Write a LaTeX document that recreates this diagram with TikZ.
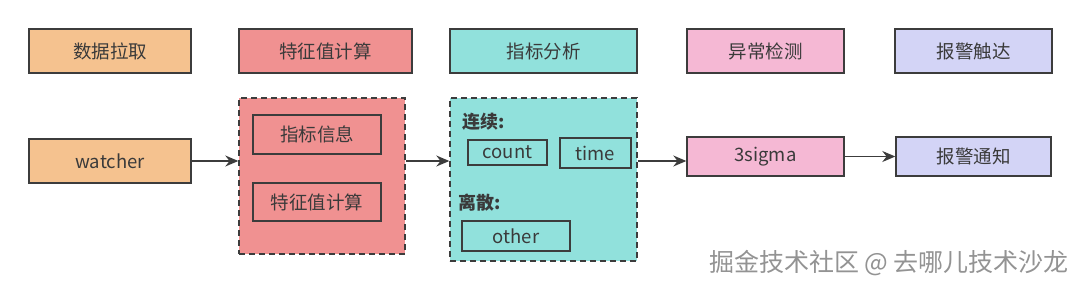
\documentclass[tikz,border=0pt]{standalone}
\usepackage{fontspec}
\setmainfont{Noto Sans CJK SC}
\usepackage{tikz}
\usetikzlibrary{arrows.meta,positioning}
\definecolor{cOrange}{HTML}{F5C28F}
\definecolor{cRed}{HTML}{F09191}
\definecolor{cTeal}{HTML}{91E1DC}
\definecolor{cPink}{HTML}{F5B8D4}
\definecolor{cLilac}{HTML}{D3D4F6}
\definecolor{cLine}{HTML}{3C3C3C}
\definecolor{cText}{HTML}{3A3A3A}

\begin{document}
\begin{tikzpicture}[x=1pt,y=-1pt,>={Stealth[length=13pt,width=11pt]},
  box/.style={draw=cLine,line width=1.4pt,inner sep=0pt,minimum width=#1,text=cText,font=\fontsize{18.5}{20}\selectfont},
  box/.default=157pt,
  grp/.style={draw=cLine,line width=1.4pt,dash pattern=on 6pt off 4pt,inner sep=0pt},
  sub/.style={draw=cLine,line width=1.4pt,inner sep=0pt,text=cText,font=\fontsize{18.5}{20}\selectfont},
  lbl/.style={anchor=west,inner sep=0pt,text=cText,font=\fontsize{18}{20}\selectfont\bfseries},
  link/.style={->,draw=cLine,line width=1.4pt}]
\useasboundingbox[fill=white] (0,0) rectangle (1080,290);
% stage headers
\node[box=162pt,fill=cOrange,minimum height=44pt] (hpull) at (110,51) {数据拉取};
\node[box=173pt,fill=cRed,minimum height=44pt] (hfeat) at (325.5,51) {特征值计算};
\node[box=187pt,fill=cTeal,minimum height=44pt] (hana) at (543.5,51) {指标分析};
\node[box,fill=cPink,minimum height=44pt] (hdet) at (765.5,51) {异常检测};
\node[box,fill=cLilac,minimum height=44pt] (halert) at (973.5,51) {报警触达};
% pipeline
\node[box=162pt,fill=cOrange,minimum height=44pt] (watcher) at (110,161) {watcher};
\node[grp,fill=cRed,minimum width=166pt,minimum height=156pt] (featgrp) at (322,176) {};
\node[sub,minimum width=128pt,minimum height=39pt] (finfo) at (317,134.5) {指标信息};
\node[sub,minimum width=128pt,minimum height=38pt] (fcalc) at (317,202) {特征值计算};
\node[grp,fill=cTeal,minimum width=187pt,minimum height=163pt] (anagrp) at (543.5,179.5) {};
\node[lbl] (cont) at (462,122) {连续:};
\node[sub,minimum width=79pt,minimum height=25pt] (count) at (507.5,152.5) {count};
\node[sub,minimum width=71pt,minimum height=30pt] (time) at (595.5,153) {time};
\node[lbl] (disc) at (458,203) {离散:};
\node[sub,minimum width=108pt,minimum height=30pt] (other) at (516,236) {other};
\node[box,fill=cPink,minimum height=39pt] (sigma) at (765.5,156.5) {3sigma};
\node[box=155pt,fill=cLilac,minimum height=39pt] (notify) at (973.5,156.5) {报警通知};
\draw[link] (watcher.east) -- (watcher.east -| featgrp.west);
\draw[link] (featgrp.east |- watcher.east) -- (anagrp.west |- watcher.east);
\draw[link] (anagrp.east |- watcher.east) -- (sigma.west |- watcher.east);
\draw[link] (sigma) -- (notify);
\node[text=gray!85,font=\fontsize{25}{28}\selectfont] (mark) at (889,263) {掘金技术社区 @ 去哪儿技术沙龙};
\end{tikzpicture}
\end{document}
